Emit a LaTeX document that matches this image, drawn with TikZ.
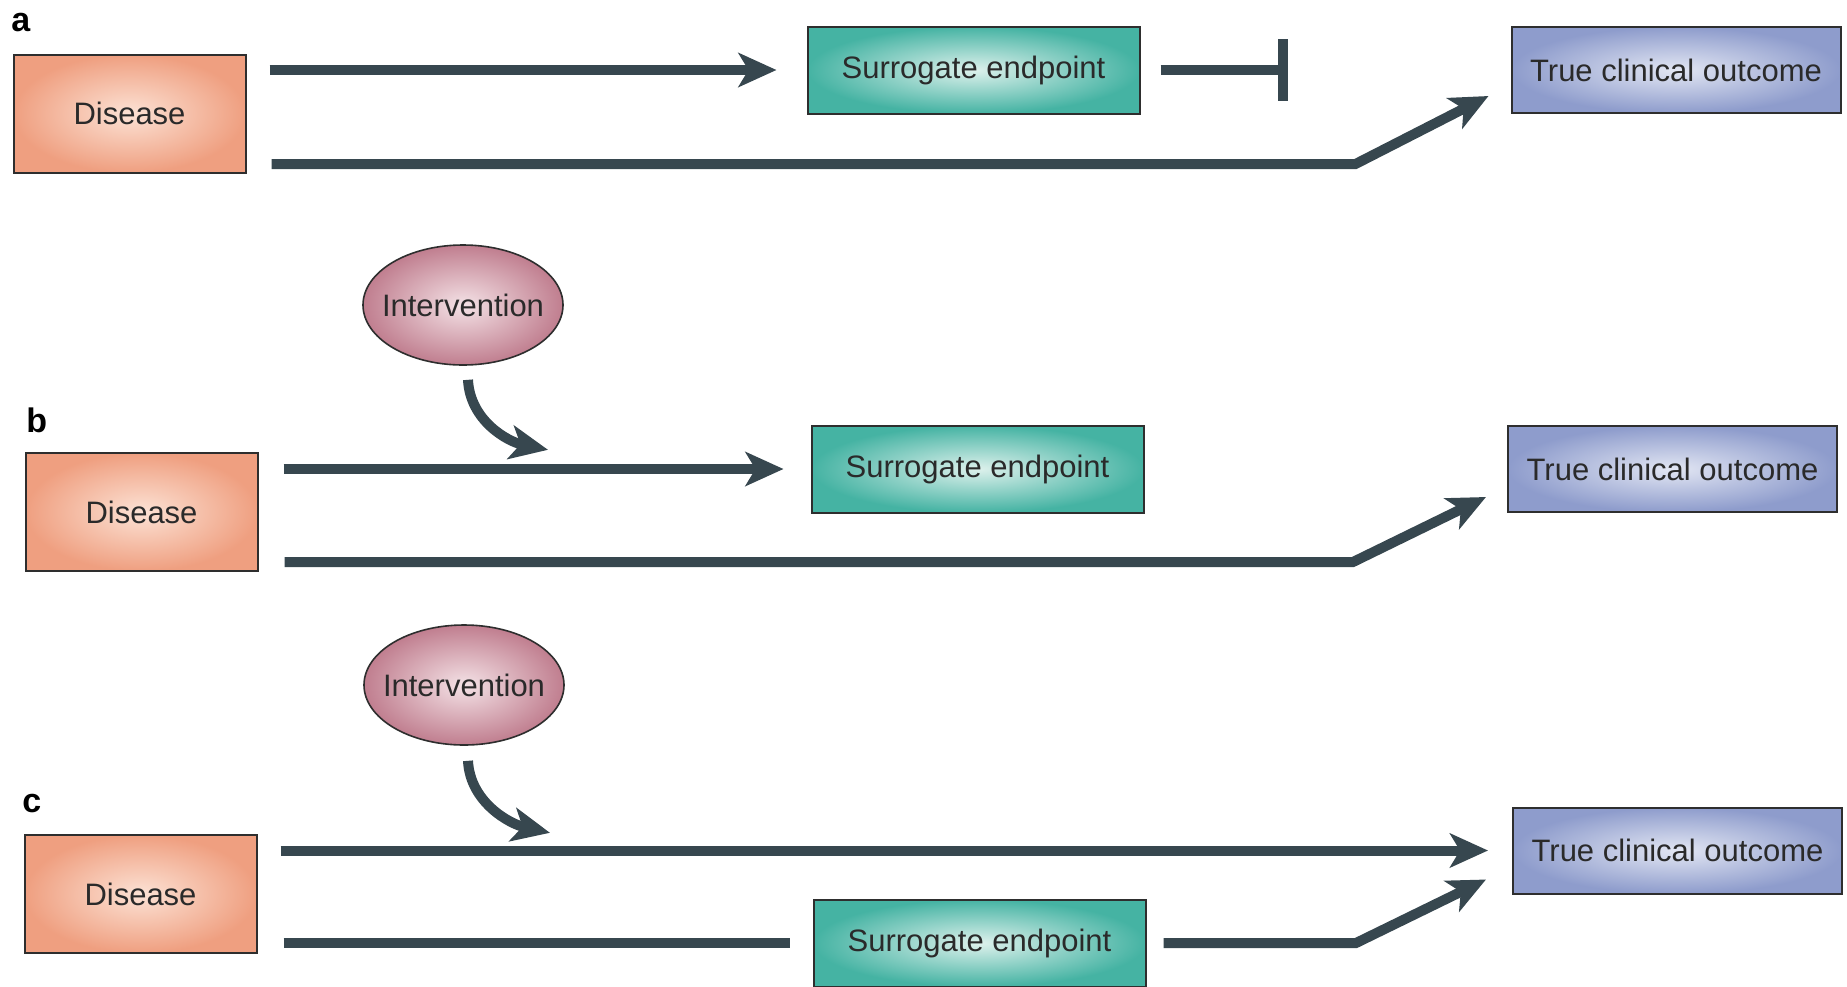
\documentclass[tikz,border=0pt]{standalone}
\usepackage{fontspec}
\setmainfont{Liberation Sans}
\usetikzlibrary{arrows.meta,shapes.geometric,calc}
\definecolor{bordercol}{HTML}{2E2E2E}
\definecolor{textcol}{HTML}{2A2A2A}
\definecolor{arrcol}{HTML}{37474F}
\definecolor{disIn}{HTML}{FCE2D5}
\definecolor{disOut}{HTML}{EF9F80}
\definecolor{surIn}{HTML}{DDF1EC}
\definecolor{surOut}{HTML}{45B3A3}
\definecolor{truIn}{HTML}{E2E6F3}
\definecolor{truOut}{HTML}{8E9CCC}
\definecolor{intIn}{HTML}{F4E2E6}
\definecolor{intOut}{HTML}{C07E8F}
\begin{document}
\begin{tikzpicture}[x=0.5pt,y=-0.5pt,
  box/.style={draw=bordercol, line width=1pt, shading=radial, inner sep=0pt,
    font=\fontsize{15.5pt}{18pt}\selectfont, text=textcol},
  disease/.style={box, inner color=disIn, outer color=disOut, minimum width=116pt, minimum height=59pt},
  surrogate/.style={box, inner color=surIn, outer color=surOut, minimum width=166pt, minimum height=43.5pt},
  trueout/.style={box, inner color=truIn, outer color=truOut, minimum width=164.5pt, minimum height=43pt},
  interv/.style={box, ellipse, line width=0.8pt, inner xsep=-8pt, inner ysep=0pt, inner color=intIn, outer color=intOut, minimum width=100pt, minimum height=60pt},
  lab/.style={font=\fontsize{17pt}{20pt}\selectfont\bfseries, text=black, inner sep=0pt, anchor=base west},
  conn/.style={line width=5pt, draw=arrcol},
  arr/.style={conn, -{Stealth[length=19pt,width=17pt,inset=5pt]}},
  inh/.style={conn, -{Bar[width=31pt]}}
]
\useasboundingbox (0,0) rectangle (1847,986);

% ---------- panel a ----------
\node[lab] (la) at (11,31) {a};
\node[disease] (disA) at (129.5,113.5) {Disease};
\node[surrogate] (surA) at (973.5,70) {Surrogate endpoint};
\node[trueout] (truA) at (1676,70) {True clinical outcome};
\coordinate (inhA) at ($(surA.east)+(147,0)$);
\coordinate (bendA) at ($(truA.south west)+(-155,50)$);
\draw[arr] ([xshift=11.5pt]disA.east |- surA.west) -- ([xshift=-15pt]surA.west);
\draw[inh] ([xshift=10pt]surA.east) -- (inhA);
\draw[arr] ($(disA.east |- bendA)+(25,0)$) -- (bendA) -- ($(truA.south west)+(-22,-18)$);

% ---------- panel b ----------
\node[lab] (lb) at (26,432) {b};
\node[interv] (intB) at (463,305) {Intervention};
\node[disease] (disB) at (141.5,512) {Disease};
\node[surrogate] (surB) at (977.5,469) {Surrogate endpoint};
\node[trueout] (truB) at (1672.5,469) {True clinical outcome};
\coordinate (bendB) at ($(truB.south west)+(-154,49)$);
\draw[arr] ([xshift=12.5pt]disB.east |- surB.west) -- ([xshift=-13.5pt]surB.west);
\draw[arr] ($(intB.south)+(5,14)$) .. controls ($(intB.south)+(7,55)$) and ($(intB.south)+(45,76)$) .. ($(intB.south)+(85,84)$);
\draw[arr] ($(disB.east |- bendB)+(26,0)$) -- (bendB) -- ($(truB.south west)+(-21,-16)$);

% ---------- panel c ----------
\node[lab] (lc) at (22,812) {c};
\node[interv] (intC) at (464,685) {Intervention};
\node[disease] (disC) at (140.5,894) {Disease};
\node[surrogate] (surC) at (979.5,943) {Surrogate endpoint};
\node[trueout] (truC) at (1677.5,850.5) {True clinical outcome};
\coordinate (bendC) at ($(truC.south west)+(-156,0)$);
\draw[arr] ([xshift=11.5pt]disC.east |- truC.west) -- ([xshift=-12pt]truC.west);
\draw[arr] ($(intC.south)+(4,15)$) .. controls ($(intC.south)+(6,56)$) and ($(intC.south)+(45,78)$) .. ($(intC.south)+(86,87)$);
\draw[conn] ($(disC.east |- surC.west)+(26,0)$) -- ([xshift=-11.5pt]surC.west);
\draw[arr] ([xshift=8.5pt]surC.east) -- (bendC |- surC.east) -- ($(truC.south west)+(-26,-15)$);
\end{tikzpicture}
\end{document}
